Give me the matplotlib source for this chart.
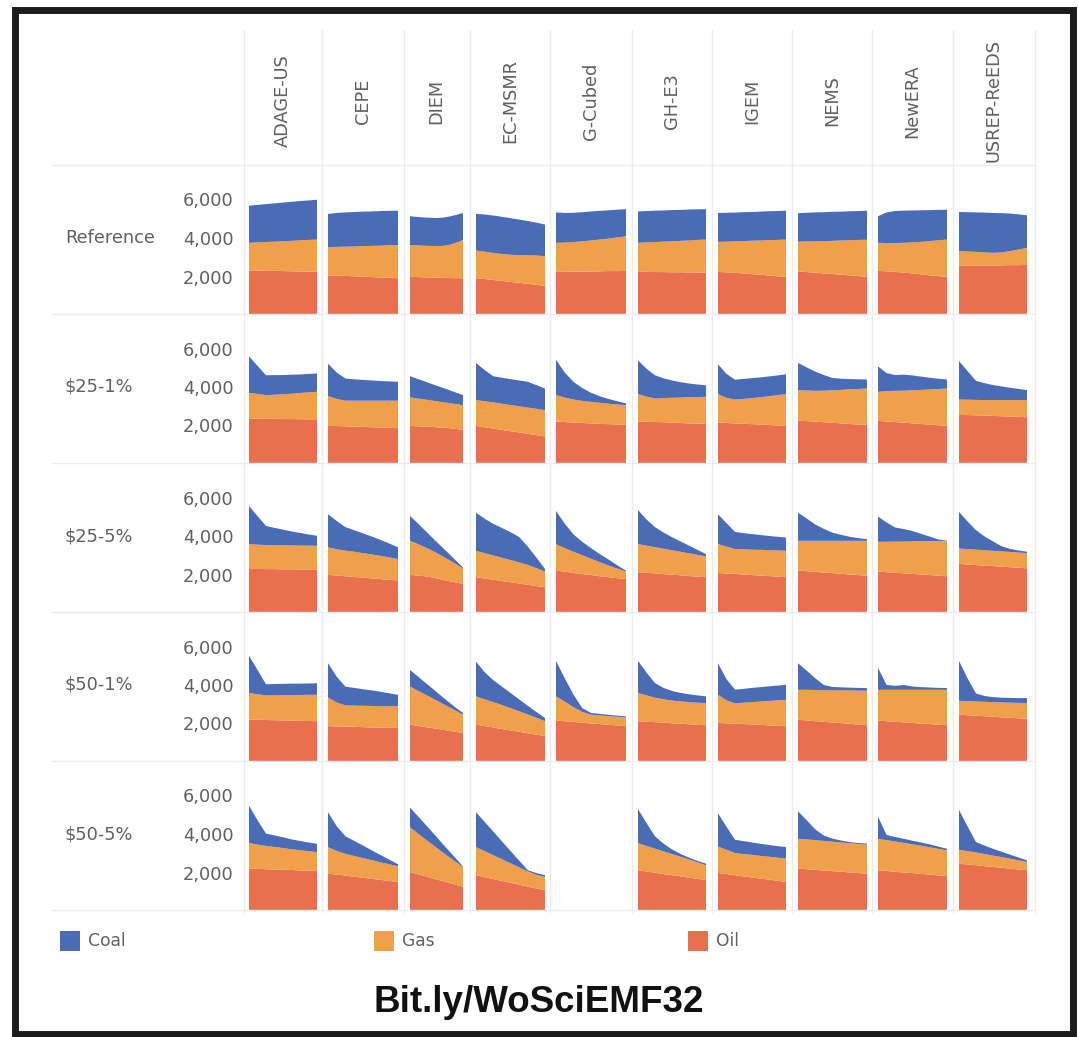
import matplotlib.pyplot as plt
from matplotlib.patches import Rectangle
from matplotlib.lines import Line2D

# ---- data (Mt CO2 by fuel) ----
years = [2010, 2015, 2020, 2025, 2030, 2035, 2040, 2045, 2050]
models = ["ADAGE-US", "CEPE", "DIEM", "EC-MSMR", "G-Cubed",
          "GH-E3", "IGEM", "NEMS", "NewERA", "USREP-ReEDS"]
scenarios = ["Reference", "$25-1%", "$25-5%", "$50-1%", "$50-5%"]
fuels = ["Coal", "Gas", "Oil"]

# Reference
oil_ref = [
    [2300, 2300, 2290, 2290, 2280, 2270, 2260, 2250, 2250],
    [2060, 2050, 2030, 2010, 1990, 1970, 1950, 1930, 1910],
    [1980, 1970, 1960, 1950, 1940, 1930, 1920, 1910, 1910],
    [1910, 1870, 1820, 1770, 1720, 1670, 1620, 1570, 1510],
    [2240, 2240, 2250, 2250, 2260, 2270, 2280, 2280, 2290],
    [2240, 2240, 2230, 2230, 2220, 2220, 2210, 2210, 2200],
    [2240, 2220, 2190, 2160, 2120, 2090, 2050, 2010, 1980],
    [2260, 2230, 2200, 2160, 2130, 2090, 2060, 2020, 1990],
    [2290, 2270, 2240, 2200, 2160, 2110, 2060, 2020, 1980],
    [2550, 2560, 2560, 2570, 2570, 2580, 2590, 2590, 2600],
]
gas_ref = [
    [1450, 1470, 1500, 1520, 1550, 1580, 1620, 1650, 1670],
    [1470, 1490, 1520, 1550, 1590, 1620, 1650, 1690, 1720],
    [1650, 1650, 1640, 1640, 1640, 1660, 1730, 1850, 1980],
    [1440, 1420, 1400, 1400, 1410, 1440, 1480, 1520, 1550],
    [1510, 1520, 1540, 1580, 1610, 1650, 1690, 1750, 1800],
    [1510, 1530, 1560, 1580, 1610, 1630, 1660, 1690, 1720],
    [1560, 1590, 1640, 1680, 1740, 1780, 1840, 1890, 1940],
    [1550, 1590, 1630, 1680, 1720, 1780, 1820, 1880, 1920],
    [1460, 1470, 1500, 1550, 1610, 1690, 1780, 1860, 1940],
    [770, 740, 720, 680, 660, 670, 730, 810, 890],
]
coal_ref = [
    [1930, 1950, 1970, 1990, 2010, 2030, 2040, 2050, 2070],
    [1720, 1760, 1780, 1790, 1790, 1790, 1800, 1790, 1790],
    [1500, 1480, 1470, 1460, 1460, 1470, 1470, 1440, 1410],
    [1910, 1930, 1950, 1930, 1900, 1850, 1780, 1710, 1640],
    [1580, 1540, 1520, 1510, 1510, 1490, 1470, 1440, 1410],
    [1630, 1630, 1630, 1620, 1620, 1610, 1610, 1590, 1580],
    [1500, 1500, 1490, 1500, 1490, 1500, 1500, 1500, 1500],
    [1480, 1490, 1500, 1500, 1510, 1500, 1510, 1500, 1510],
    [1380, 1590, 1660, 1670, 1660, 1640, 1610, 1580, 1550],
    [2030, 2040, 2050, 2070, 2070, 2040, 1950, 1830, 1690],
]

# $25-1%
oil_25_1 = [
    [2370, 2360, 2350, 2340, 2340, 2330, 2330, 2320, 2320],
    [1980, 1970, 1960, 1940, 1930, 1910, 1900, 1880, 1860],
    [1980, 1960, 1940, 1930, 1910, 1890, 1860, 1820, 1770],
    [1980, 1910, 1840, 1770, 1700, 1640, 1570, 1500, 1430],
    [2200, 2180, 2150, 2130, 2110, 2080, 2070, 2050, 2030],
    [2200, 2190, 2180, 2170, 2150, 2130, 2110, 2100, 2080],
    [2150, 2130, 2110, 2090, 2070, 2050, 2030, 2000, 1980],
    [2250, 2230, 2200, 2170, 2140, 2110, 2080, 2050, 2030],
    [2240, 2210, 2180, 2150, 2110, 2080, 2050, 2010, 1980],
    [2550, 2540, 2530, 2520, 2500, 2480, 2470, 2450, 2430],
]
gas_25_1 = [
    [1330, 1280, 1230, 1260, 1280, 1320, 1360, 1400, 1430],
    [1550, 1410, 1330, 1350, 1360, 1380, 1390, 1410, 1430],
    [1480, 1450, 1420, 1380, 1350, 1320, 1300, 1290, 1290],
    [1340, 1350, 1360, 1360, 1360, 1360, 1360, 1370, 1370],
    [1380, 1270, 1200, 1150, 1120, 1100, 1060, 1040, 1030],
    [1430, 1310, 1220, 1250, 1290, 1320, 1360, 1380, 1410],
    [1480, 1310, 1240, 1290, 1350, 1420, 1490, 1580, 1650],
    [1590, 1590, 1600, 1640, 1690, 1740, 1800, 1850, 1890],
    [1510, 1580, 1620, 1660, 1720, 1770, 1820, 1890, 1940],
    [800, 800, 800, 800, 820, 840, 850, 870, 890],
]
coal_25_1 = [
    [1890, 1460, 1030, 1020, 1000, 990, 960, 960, 950],
    [1680, 1370, 1150, 1110, 1080, 1050, 1020, 1000, 980],
    [1100, 1030, 960, 880, 810, 740, 670, 590, 520],
    [1930, 1620, 1360, 1350, 1350, 1340, 1340, 1230, 1120],
    [1840, 1300, 920, 670, 470, 340, 250, 170, 90],
    [1750, 1450, 1210, 1030, 900, 800, 710, 650, 600],
    [1550, 1240, 1030, 1040, 1040, 1030, 1030, 1020, 1030],
    [1410, 1200, 1000, 810, 640, 580, 530, 500, 470],
    [1320, 930, 820, 830, 770, 690, 610, 530, 470],
    [2000, 1490, 990, 880, 780, 710, 640, 580, 520],
]

# $25-5%
oil_25_5 = [
    [2290, 2290, 2280, 2280, 2270, 2270, 2260, 2260, 2250],
    [1980, 1950, 1910, 1870, 1840, 1800, 1760, 1720, 1690],
    [1980, 1950, 1920, 1870, 1800, 1720, 1650, 1580, 1510],
    [1860, 1790, 1730, 1660, 1600, 1530, 1470, 1400, 1340],
    [2200, 2150, 2080, 2020, 1970, 1910, 1860, 1810, 1770],
    [2120, 2090, 2060, 2020, 1990, 1960, 1920, 1890, 1860],
    [2080, 2050, 2030, 2000, 1970, 1940, 1920, 1890, 1860],
    [2200, 2170, 2140, 2100, 2070, 2040, 2000, 1970, 1940],
    [2150, 2120, 2090, 2060, 2030, 2000, 1970, 1940, 1910],
    [2550, 2520, 2490, 2460, 2440, 2410, 2380, 2350, 2320],
]
gas_25_5 = [
    [1290, 1260, 1250, 1240, 1250, 1240, 1240, 1240, 1240],
    [1430, 1360, 1330, 1310, 1270, 1240, 1210, 1170, 1110],
    [1770, 1660, 1540, 1430, 1320, 1210, 1080, 950, 810],
    [1370, 1320, 1260, 1210, 1150, 1100, 1030, 930, 810],
    [1380, 1220, 1100, 980, 850, 730, 610, 500, 380],
    [1460, 1410, 1360, 1320, 1270, 1220, 1180, 1130, 1080],
    [1500, 1400, 1290, 1310, 1320, 1340, 1340, 1360, 1370],
    [1550, 1580, 1610, 1650, 1680, 1710, 1750, 1780, 1810],
    [1550, 1580, 1620, 1650, 1690, 1730, 1760, 1800, 1840],
    [800, 800, 800, 800, 790, 790, 790, 790, 790],
]
coal_25_5 = [
    [1980, 1490, 990, 900, 810, 730, 660, 580, 520],
    [1720, 1470, 1220, 1120, 1030, 930, 830, 720, 610],
    [1290, 1110, 920, 740, 580, 440, 310, 170, 50],
    [1980, 1790, 1640, 1550, 1450, 1320, 950, 550, 140],
    [1720, 1270, 900, 700, 550, 420, 310, 170, 50],
    [1770, 1360, 1040, 840, 680, 540, 400, 260, 120],
    [1550, 1220, 890, 840, 810, 770, 740, 710, 690],
    [1460, 1160, 850, 620, 420, 310, 210, 140, 90],
    [1310, 1000, 730, 650, 540, 380, 240, 80, 10],
    [1900, 1440, 1010, 720, 490, 270, 160, 110, 70],
]

# $50-1%
oil_50_1 = [
    [2200, 2190, 2180, 2170, 2160, 2150, 2140, 2130, 2120],
    [1860, 1850, 1840, 1830, 1810, 1800, 1790, 1780, 1770],
    [1940, 1890, 1830, 1780, 1730, 1670, 1620, 1560, 1510],
    [1940, 1870, 1790, 1710, 1640, 1570, 1490, 1420, 1340],
    [2150, 2120, 2080, 2040, 2000, 1970, 1930, 1900, 1860],
    [2120, 2090, 2070, 2040, 2010, 1990, 1960, 1930, 1910],
    [2030, 2010, 1990, 1970, 1950, 1930, 1900, 1880, 1860],
    [2200, 2160, 2120, 2090, 2050, 2020, 1980, 1950, 1910],
    [2150, 2120, 2090, 2060, 2030, 2000, 1970, 1940, 1910],
    [2460, 2430, 2400, 2380, 2350, 2320, 2300, 2270, 2250],
]
gas_50_1 = [
    [1380, 1330, 1280, 1290, 1310, 1320, 1340, 1360, 1370],
    [1490, 1240, 1100, 1100, 1110, 1110, 1110, 1120, 1120],
    [1980, 1850, 1730, 1600, 1470, 1340, 1210, 1090, 950],
    [1470, 1390, 1320, 1250, 1160, 1070, 980, 880, 780],
    [1260, 1020, 770, 560, 460, 450, 450, 450, 460],
    [1460, 1370, 1270, 1220, 1180, 1160, 1150, 1150, 1150],
    [1460, 1190, 1060, 1110, 1160, 1210, 1270, 1320, 1370],
    [1550, 1590, 1620, 1640, 1670, 1700, 1730, 1760, 1790],
    [1600, 1630, 1660, 1690, 1720, 1750, 1780, 1810, 1840],
    [720, 730, 740, 750, 760, 780, 780, 800, 810],
]
coal_50_1 = [
    [1940, 1260, 580, 590, 590, 600, 590, 590, 600],
    [1780, 1340, 970, 920, 860, 810, 750, 670, 600],
    [860, 760, 650, 550, 440, 340, 240, 150, 90],
    [1800, 1410, 1140, 960, 790, 610, 450, 300, 170],
    [1840, 1210, 650, 200, 90, 80, 70, 60, 50],
    [1670, 1190, 760, 590, 500, 440, 410, 380, 350],
    [1640, 1100, 710, 720, 740, 750, 760, 770, 780],
    [1380, 1000, 610, 270, 180, 160, 150, 140, 140],
    [1150, 250, 210, 250, 170, 140, 120, 100, 90],
    [2070, 1190, 420, 300, 260, 240, 250, 250, 260],
]

# $50-5%  (G-Cubed has no run)
oil_50_5 = [
    [2200, 2190, 2170, 2160, 2140, 2130, 2110, 2100, 2080],
    [1940, 1890, 1840, 1780, 1730, 1670, 1620, 1560, 1510],
    [2030, 1930, 1840, 1740, 1640, 1550, 1450, 1360, 1260],
    [1860, 1760, 1660, 1560, 1470, 1370, 1270, 1170, 1080],
    None,
    [2120, 2050, 1990, 1920, 1860, 1800, 1730, 1670, 1600],
    [1980, 1920, 1860, 1800, 1740, 1680, 1630, 1570, 1510],
    [2200, 2170, 2140, 2100, 2070, 2040, 2000, 1970, 1940],
    [2120, 2080, 2040, 2000, 1970, 1930, 1890, 1850, 1810],
    [2460, 2420, 2380, 2330, 2290, 2250, 2200, 2160, 2120],
]
gas_50_5 = [
    [1330, 1260, 1210, 1170, 1130, 1080, 1050, 1010, 980],
    [1380, 1230, 1130, 1080, 1020, 970, 910, 870, 810],
    [2320, 2150, 1970, 1810, 1650, 1480, 1330, 1170, 1030],
    [1460, 1350, 1240, 1130, 1010, 900, 790, 710, 690],
    None,
    [1410, 1330, 1250, 1180, 1100, 1020, 950, 860, 770],
    [1370, 1260, 1150, 1160, 1180, 1180, 1190, 1200, 1210],
    [1550, 1550, 1540, 1540, 1530, 1520, 1520, 1510, 1500],
    [1630, 1600, 1570, 1540, 1490, 1460, 1420, 1380, 1340],
    [720, 690, 660, 630, 590, 550, 520, 470, 430],
]
coal_50_5 = [
    [1940, 1270, 640, 600, 560, 510, 480, 450, 430],
    [1810, 1280, 910, 780, 650, 510, 380, 240, 110],
    [1030, 920, 810, 690, 560, 430, 300, 170, 30],
    [1810, 1520, 1230, 930, 640, 350, 60, 90, 90],
    None,
    [1770, 1190, 640, 400, 240, 150, 90, 70, 90],
    [1720, 1200, 690, 670, 640, 630, 610, 600, 600],
    [1430, 1000, 560, 280, 160, 100, 60, 50, 60],
    [1150, 270, 230, 210, 190, 170, 150, 120, 80],
    [2070, 1290, 540, 440, 350, 280, 210, 150, 80],
]

oil_rows = [oil_ref, oil_25_1, oil_25_5, oil_50_1, oil_50_5]
gas_rows = [gas_ref, gas_25_1, gas_25_5, gas_50_1, gas_50_5]
coal_rows = [coal_ref, coal_25_1, coal_25_5, coal_50_1, coal_50_5]

# ---- layout (pixels of the 1078x1037 canvas) ----
W, H = 1078, 1037
col_left = [249, 328, 410, 476, 556, 638, 718, 798, 878, 959]
col_right = [317, 398, 463, 545, 626, 706, 786, 867, 947, 1027]
sep_x = [244, 322, 404, 470, 550, 632, 712, 792, 872, 953, 1035]
row_bottom = [315, 464, 613, 762, 911]
pane_h = 140
px_per_6000 = 115.5
y_top = pane_h * 6000 / px_per_6000

coal_c = "#4a6bb5"
gas_c = "#f0a04a"
oil_c = "#e8704f"
text_c = "#606060"
grid_c = "#ececec"
label_size = 12.8


def fx(x):
    return x / W


def fy(y):
    return 1 - y / H


fig = plt.figure(figsize=(W / 100, H / 100), dpi=100)

# faint pane separators
for x in sep_x:
    fig.add_artist(Line2D([fx(x), fx(x)], [fy(30), fy(912)], color=grid_c, lw=1))
for y in [165] + [b - 1 for b in row_bottom]:
    fig.add_artist(Line2D([fx(52), fx(1035)], [fy(y), fy(y)], color=grid_c, lw=1))

for r, scen in enumerate(scenarios):
    b = row_bottom[r]
    fig.text(fx(65), fy(b - 4000 / 6000 * px_per_6000), scen, ha="left", va="center",
             fontsize=label_size, color=text_c)
    for c, model in enumerate(models):
        ax = fig.add_axes([fx(col_left[c]), fy(b), fx(col_right[c]) - fx(col_left[c]),
                           pane_h / H])
        ax.set_xlim(years[0], years[-1])
        ax.set_ylim(0, y_top)
        ax.set_xticks([])
        for s in ax.spines.values():
            s.set_visible(False)
        ax.patch.set_alpha(0)
        if c == 0:
            ax.set_yticks([2000, 4000, 6000])
            ax.set_yticklabels([f"{v:,}" for v in [2000, 4000, 6000]])
            ax.tick_params(axis="y", length=0, pad=11, labelsize=label_size,
                           labelcolor=text_c)
        else:
            ax.set_yticks([])
        oil = oil_rows[r][c]
        if oil is None:
            continue
        ax.stackplot(years, oil, gas_rows[r][c], coal_rows[r][c],
                     colors=[oil_c, gas_c, coal_c], linewidth=0)

# column headers
for c, model in enumerate(models):
    fig.text(fx((col_left[c] + col_right[c]) / 2), fy(101), model, rotation=90,
             ha="center", va="center", fontsize=label_size, color=text_c)

# legend
legend_x = [60, 374, 688]
for name, col, x in zip(fuels, [coal_c, gas_c, oil_c], legend_x):
    fig.add_artist(Rectangle((fx(x), fy(951)), 20 / W, 20 / H, transform=fig.transFigure,
                             facecolor=col, edgecolor="none"))
    fig.text(fx(x + 28), fy(941), name, ha="left", va="center", fontsize=12.3, color=text_c)

fig.text(0.5, fy(1002), "Bit.ly/WoSciEMF32", ha="center", va="center",
         fontsize=26.5, fontweight="bold", family="Liberation Sans", color="#111111")

# dark frame around the picture
fig.add_artist(Rectangle((fx(15), fy(1034)), (1073 - 15) / W, (1034 - 10) / H,
                         transform=fig.transFigure, fill=False, lw=5, edgecolor="#1c1c1c"))

fig.savefig("out.png", dpi=100)
